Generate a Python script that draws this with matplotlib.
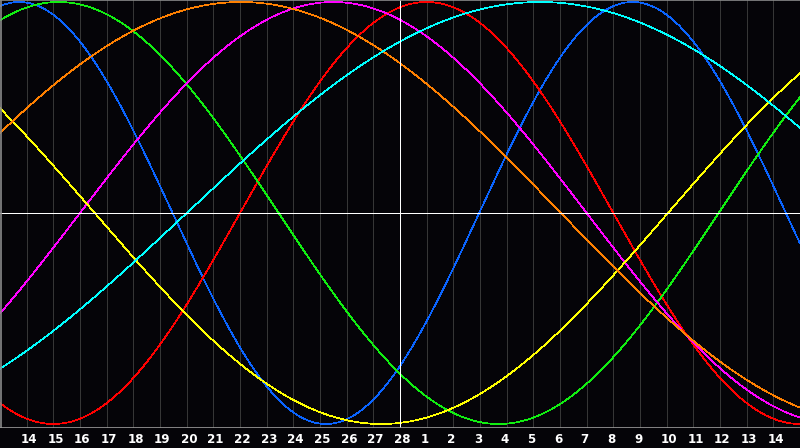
import numpy as np
import matplotlib
matplotlib.use("Agg")
import matplotlib.pyplot as plt

# ---- data ----
day_labels = ["14", "15", "16", "17", "18", "19", "20", "21", "22", "23", "24", "25", "26", "27", "28",
              "1", "2", "3", "4", "5", "6", "7", "8", "9", "10", "11", "12", "13", "14"]
cycle_names = ["Physical", "Emotional", "Intellectual", "Intuitive", "Aesthetic", "Awareness", "Spiritual"]
cycle_periods = [23, 28, 33, 38, 43, 48, 53]          # days
cycle_crest_day = [0.72, 16.0, 2.2, 12.5, 35.8, 9.03, 20.25]  # chart-day position of a crest
cycle_colors = ["#0a64ff", "#ff0000", "#11ee11", "#ff00ff", "#ffff00", "#ff8000", "#00ffff"]
today_index = 15  # grid line of "28"

W, H = 800, 448
fig = plt.figure(figsize=(W / 100, H / 100), dpi=100)
fig.patch.set_facecolor("#050408")
plot_h = 428
ax = fig.add_axes([0, 1 - plot_h / H, 1, plot_h / H])
ax.set_facecolor("#050408")
n_days = len(day_labels) + 1
ax.set_xlim(0, n_days)
top = 1 + 2 / 211
bot = -1 - 4 / 211
ax.set_ylim(bot, top)
for s in ax.spines.values():
    s.set_visible(False)
ax.set_xticks([])
ax.set_yticks([])

lw = 0.5
# vertical grid lines
for k in range(1, n_days):
    if k == today_index:
        continue
    ax.axvline(k, color="#363636", lw=0.72, zorder=1, antialiased=False)

t = np.linspace(0, n_days, 1601)
for P, c0, col in zip(cycle_periods, cycle_crest_day, cycle_colors):
    y = np.cos(2 * np.pi * (t - c0) / P)
    ax.plot(t, y, color=col, lw=lw, zorder=3, antialiased=False)

ax.axvline(today_index, color="#ffffff", lw=0.72, zorder=4, antialiased=False)
ax.axhline(0, color="#ffffff", lw=0.72, zorder=4, antialiased=False)

# borders
ax.axvline(0.02, color="#8a8a8a", lw=1.2, zorder=5)
ax.axhline(top, color="#8a8a8a", lw=1.2, zorder=5)
ax.axhline(bot, color="#9a9a9a", lw=1.2, zorder=5)

# day labels
for k, lab in enumerate(day_labels, start=1):
    fig.text((k * W / n_days - 6) / W, 1 - 439 / H, lab, color="white",
             fontsize=8.6, fontweight="bold", family="DejaVu Sans",
             ha="left", va="center")

fig.savefig("out.png", dpi=100, facecolor=fig.get_facecolor())
